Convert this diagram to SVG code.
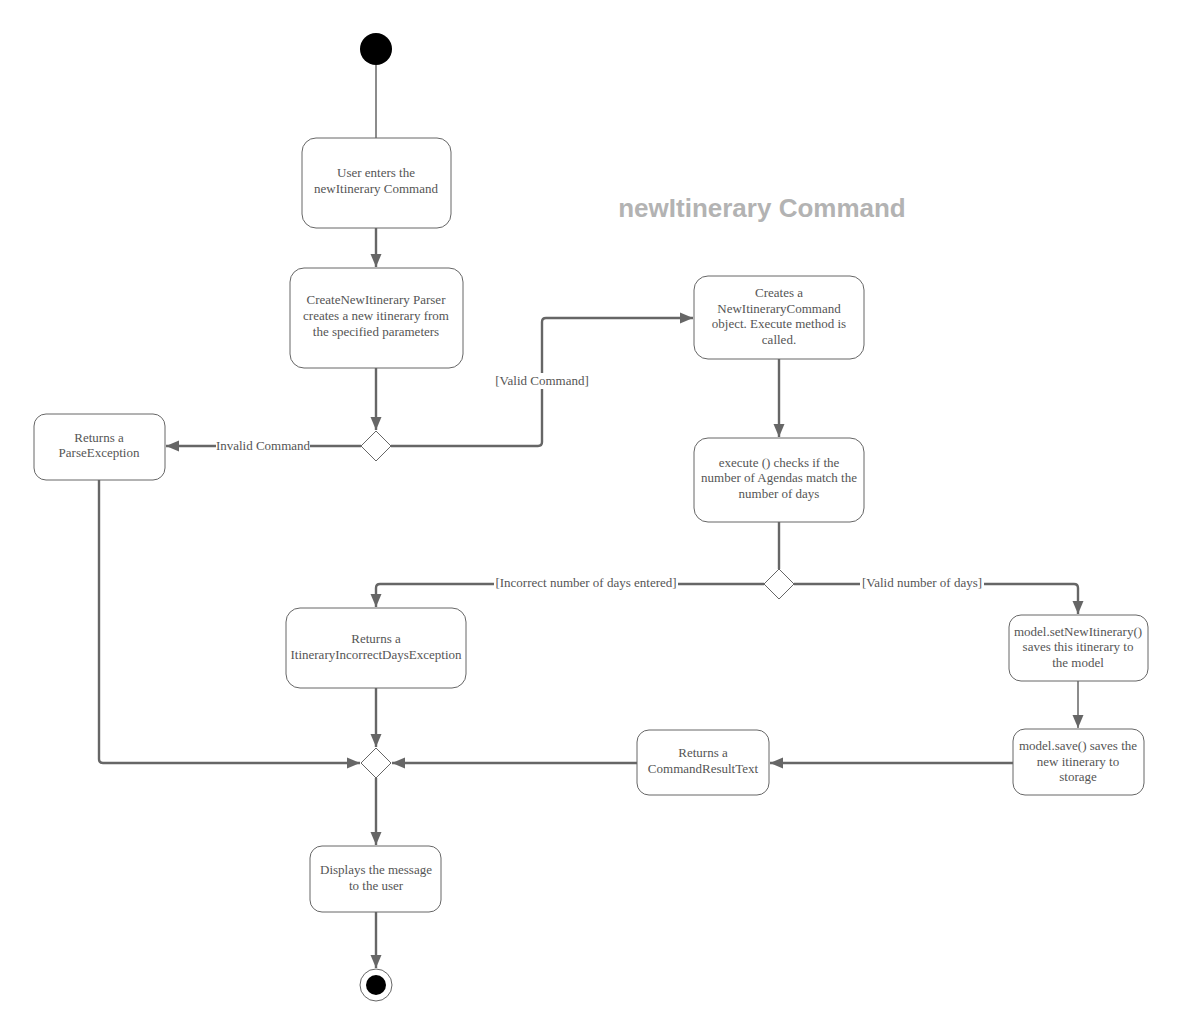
<svg xmlns="http://www.w3.org/2000/svg" width="1181" height="1035" viewBox="0 0 1181 1035">
<style>
.node rect{fill:#fff;stroke:#666;stroke-width:1}
.node polygon{fill:#fff;stroke:#666;stroke-width:1;stroke-linejoin:round}
.node text,.lbl{font-family:"Liberation Serif",serif;font-size:13px;fill:#555;text-anchor:middle}
.e{fill:none;stroke:#666;stroke-width:2.4;stroke-linejoin:round}
.t{fill:none;stroke:#666;stroke-width:1.5}
.lb{fill:#fff}
</style>
<defs>
<marker id="a" markerUnits="userSpaceOnUse" markerWidth="14" markerHeight="14" viewBox="0 0 14 14" refX="13" refY="7" orient="auto">
<path d="M0,1.5 L13,7 L0,12.5 Z" fill="#666"/>
</marker>
</defs>
<rect width="1181" height="1035" fill="#fff"/>
<text x="762" y="217" font-family="Liberation Sans,Arial,sans-serif" font-weight="bold" font-size="26" fill="#b3b3b3" text-anchor="middle">newItinerary Command</text>
<g id="connectors">
<path class="t" d="M376,65 V138" stroke-width="1"/>
<path class="e" d="M376,228 V267" marker-end="url(#a)"/>
<path class="e" d="M376,368 V430" marker-end="url(#a)"/>
<path class="e" d="M361,446 H166" marker-end="url(#a)"/>
<path class="e" d="M391,446 H538 Q542,446 542,442 V322 Q542,318 546,318 H693" marker-end="url(#a)"/>
<path class="e" d="M779,359 V437" marker-end="url(#a)"/>
<path class="e" d="M779,522 V569"/>
<path class="e" d="M764,584 H380 Q376,584 376,588 V607" marker-end="url(#a)"/>
<path class="e" d="M794,584 H1074 Q1078,584 1078,588 V614" marker-end="url(#a)"/>
<path class="t" d="M1078,681 V728" marker-end="url(#a)"/>
<path class="e" d="M1013,763 H770" marker-end="url(#a)"/>
<path class="e" d="M637,763 H392" marker-end="url(#a)"/>
<path class="e" d="M376,688 V747" marker-end="url(#a)"/>
<path class="e" d="M99,480 V759 Q99,763 103,763 H360" marker-end="url(#a)"/>
<path class="e" d="M376,778 V845" marker-end="url(#a)"/>
<path class="e" d="M376,912 V968" marker-end="url(#a)"/>
<rect class="lb" x="216" y="438" width="94" height="16"/>
<text class="lbl" x="263" y="450">Invalid Command</text>
<rect class="lb" x="492" y="373" width="100" height="16"/>
<text class="lbl" x="542" y="385">[Valid Command]</text>
<rect class="lb" x="494" y="576" width="184" height="16"/>
<text class="lbl" x="586" y="587">[Incorrect number of days entered]</text>
<rect class="lb" x="860" y="576" width="124" height="16"/>
<text class="lbl" x="922" y="587">[Valid number of days]</text>
</g>
<g id="start"><circle cx="376" cy="49" r="16" fill="#000"/></g>
<g id="n1" class="node"><rect x="302" y="138" width="149" height="90" rx="14"/><text x="376" y="177">User enters the</text><text x="376" y="193">newItinerary Command</text></g>
<g id="n2" class="node"><rect x="290" y="268" width="173" height="100" rx="14"/><text x="376" y="304">CreateNewItinerary Parser</text><text x="376" y="320">creates a new itinerary from</text><text x="376" y="336">the specified parameters</text></g>
<g id="d1" class="node"><polygon points="376,431 391,446 376,461 361,446"/></g>
<g id="n3" class="node"><rect x="34" y="414" width="131" height="66" rx="12"/><text x="99" y="442">Returns a</text><text x="99" y="457">ParseException</text></g>
<g id="n4" class="node"><rect x="694" y="276" width="170" height="83" rx="14"/><text x="779" y="297">Creates a</text><text x="779" y="313">NewItineraryCommand</text><text x="779" y="328">object. Execute method is</text><text x="779" y="344">called.</text></g>
<g id="n5" class="node"><rect x="694" y="438" width="170" height="84" rx="14"/><text x="779" y="467">execute () checks if the</text><text x="779" y="482">number of Agendas match the</text><text x="779" y="498">number of days</text></g>
<g id="d2" class="node"><polygon points="779,569 794,584 779,599 764,584"/></g>
<g id="n6" class="node"><rect x="286" y="608" width="180" height="80" rx="14"/><text x="376" y="643">Returns a</text><text x="376" y="659">ItineraryIncorrectDaysException</text></g>
<g id="n7" class="node"><rect x="1009" y="615" width="139" height="66" rx="12"/><text x="1078" y="636">model.setNewItinerary()</text><text x="1078" y="651">saves this itinerary to</text><text x="1078" y="667">the model</text></g>
<g id="n8" class="node"><rect x="1013" y="729" width="131" height="66" rx="12"/><text x="1078" y="750">model.save() saves the</text><text x="1078" y="766">new itinerary to</text><text x="1078" y="781">storage</text></g>
<g id="n9" class="node"><rect x="637" y="730" width="132" height="65" rx="12"/><text x="703" y="757">Returns a</text><text x="703" y="773">CommandResultText</text></g>
<g id="d3" class="node"><polygon points="376,748 391,763 376,778 361,763"/></g>
<g id="n10" class="node"><rect x="310" y="846" width="131" height="66" rx="12"/><text x="376" y="874">Displays the message</text><text x="376" y="890">to the user</text></g>
<g id="end"><circle cx="376" cy="985" r="16" fill="#fff" stroke="#666" stroke-width="1"/><circle cx="376" cy="985" r="10" fill="#000"/></g>
</svg>
